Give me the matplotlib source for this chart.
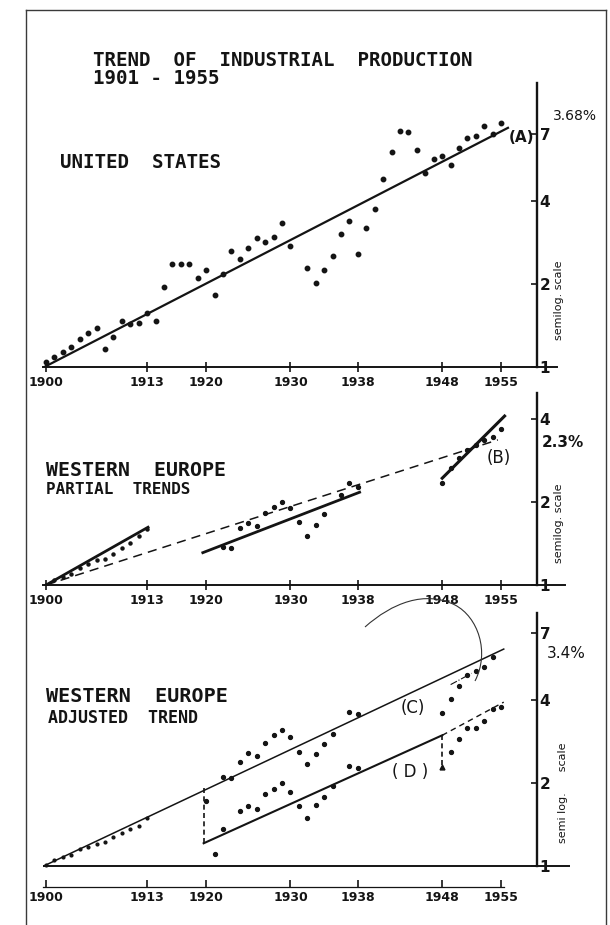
"""
Trend of industrial production 1901-1955: United States and Western Europe,
three stacked semilog panels in the style of an old typewritten figure.
"""

import matplotlib.pyplot as plt
from matplotlib.lines import Line2D
from matplotlib.path import Path
from matplotlib.patches import PathPatch
from matplotlib.ticker import NullLocator

# ---------------------------------------------------------------- data
tick_years = [1901, 1913, 1920, 1930, 1938, 1948, 1955]
tick_labels = ['1900', '1913', '1920', '1930', '1938', '1948', '1955']

# United States, index (1901 = 1)
us_years = list(range(1901, 1931)) + list(range(1932, 1956))
us_index = [1.04, 1.09, 1.13, 1.18, 1.26, 1.33, 1.39, 1.16, 1.28, 1.47,
            1.43, 1.44, 1.57, 1.47, 1.95, 2.36, 2.36, 2.36, 2.10, 2.25,
            1.82, 2.17, 2.64, 2.46, 2.70, 2.94, 2.84, 2.96, 3.33, 2.75,
            2.29, 2.02, 2.25, 2.53, 3.04, 3.38, 2.57, 3.19, 3.74, 4.81,
            6.02, 7.18, 7.12, 6.12, 5.05, 5.68, 5.82, 5.40, 6.23, 6.77,
            6.88, 7.48, 7.00, 7.67]
trend_a_years = [1900.8, 1955.8]
trend_a_vals = [1.0, 7.36]

# Western Europe, partial trends
we_pre_years = list(range(1901, 1914))
we_pre_index = [1.00, 1.04, 1.07, 1.10, 1.15, 1.19, 1.23, 1.24, 1.30, 1.36,
                1.42, 1.50, 1.60]
we_mid_years = [1922, 1923, 1924, 1925, 1926, 1927, 1928, 1929, 1930, 1931,
                1932, 1933, 1934, 1936, 1937, 1938]
we_mid_index = [1.37, 1.36, 1.61, 1.68, 1.64, 1.82, 1.92, 2.00, 1.90, 1.69,
                1.51, 1.65, 1.81, 2.12, 2.34, 2.27]
we_post_years = list(range(1948, 1956))
we_post_index = [2.34, 2.66, 2.89, 3.09, 3.22, 3.36, 3.45, 3.68]
seg1_years, seg1_vals = [1901, 1913.1], [1.0, 1.62]
seg2_years, seg2_vals = [1919.6, 1938.2], [1.31, 2.17]
seg3_years, seg3_vals = [1948.0, 1955.4], [2.44, 4.10]
overall_years, overall_vals = [1901, 1954.6], [1.0, 3.36]

# Western Europe, adjusted trend
adj_pre_years = list(range(1901, 1914))
adj_pre_index = [1.01, 1.05, 1.08, 1.10, 1.15, 1.17, 1.20, 1.22, 1.28, 1.32,
                 1.36, 1.40, 1.49]
adj_c_years = [1922, 1923, 1924, 1925, 1926, 1927, 1928, 1929, 1930, 1931,
               1932, 1933, 1934, 1935, 1937, 1938, 1948, 1949, 1950, 1951,
               1952, 1953, 1954]
adj_c_index = [2.10, 2.08, 2.38, 2.57, 2.51, 2.79, 2.98, 3.11, 2.94, 2.59,
               2.34, 2.55, 2.77, 3.01, 3.62, 3.56, 3.59, 4.03, 4.50, 4.93,
               5.10, 5.27, 5.73]
adj_d_years = [1920, 1921, 1922, 1924, 1925, 1926, 1927, 1928, 1929, 1930,
               1931, 1932, 1933, 1934, 1935, 1937, 1938, 1949, 1950, 1951,
               1952, 1953, 1954, 1955]
adj_d_index = [1.72, 1.105, 1.36, 1.58, 1.65, 1.61, 1.82, 1.90, 2.00, 1.86,
               1.65, 1.49, 1.66, 1.78, 1.95, 2.30, 2.27, 2.59, 2.89, 3.16,
               3.16, 3.36, 3.71, 3.77]
line_c_years, line_c_vals = [1900.7, 1955.3], [1.0, 6.12]
line_d_years, line_d_vals = [1919.7, 1948.0], [1.21, 2.98]
line_d_ext_years, line_d_ext_vals = [1948.0, 1955.3], [2.98, 3.93]
drop_1920_vals = [1.92, 1.21]
drop_1948_vals = [2.98, 2.29]
short_c_years, short_c_vals = [1949.0, 1951.5], [4.55, 5.00]

# ---------------------------------------------------------------- style
ink = '#141414'
mono = 'DejaVu Sans Mono'
W, H = 610, 925
XLIM = (1900.64, 1963.16)
AXIS_X = 1959.3

fig = plt.figure(figsize=(6.1, 9.25), dpi=100)


def px(x, y):
    return x / W, 1 - y / H


def make_panel(top, bottom, ylim, yticks, bottom_to, ticks_in=False):
    ax = fig.add_axes([43 / W, 1 - bottom / H, (570 - 43) / W, (bottom - top) / H])
    ax.set_yscale('log')
    ax.set_xlim(*XLIM)
    ax.set_ylim(*ylim)
    ax.patch.set_alpha(0)
    for s in ('top', 'left'):
        ax.spines[s].set_visible(False)
    ax.spines['right'].set_position(('data', AXIS_X))
    ax.spines['right'].set_bounds(1, ylim[1])
    ax.spines['right'].set_linewidth(1.7)
    ax.spines['right'].set_color(ink)
    ax.spines['bottom'].set_bounds(XLIM[0], bottom_to)
    ax.spines['bottom'].set_linewidth(1.4 if not ticks_in else 0.9)
    ax.spines['bottom'].set_color(ink)
    ax.yaxis.set_minor_locator(NullLocator())
    ax.set_yticks(yticks)
    ax.set_yticklabels([str(t) for t in yticks], fontweight='bold', fontsize=11,
                       color=ink)
    ax.yaxis.tick_right()
    ax.tick_params(axis='y', which='major', direction='in', length=4, width=1.2,
                   pad=1.5, colors=ink)
    ax.set_xticks(tick_years)
    ax.set_xticklabels(tick_labels, fontweight='bold', fontsize=9, color=ink)
    ax.tick_params(axis='x', direction='in' if ticks_in else 'inout',
                   length=5 if ticks_in else 7, width=1.2, pad=3, colors=ink)
    return ax


# ---------------------------------------------------------------- panel 1
ax1 = make_panel(83, 367, (1, 10.7), [1, 2, 4, 7], 1961.6)
ax1.plot(us_years, us_index, 'o', ms=3.2, color=ink, zorder=3)
ax1.plot(trend_a_years, trend_a_vals, '-', lw=1.6, color=ink)
ax1.text(1957.4, 6.8, '(A)', fontsize=11, fontweight='bold', ha='center',
         va='center', color=ink)
ax1.text(1963.8, 8.1, '3.68%', fontsize=10, ha='center', va='center', color=ink)
ax1.text(1961.9, 1.75, 'semilog. scale', rotation=90, fontsize=8, ha='center',
         va='center', color=ink)

# ---------------------------------------------------------------- panel 2
ax2 = make_panel(393, 585, (1, 4.97), [1, 2, 4], 1962.6)
ax2.plot(we_pre_years, we_pre_index, 'o', ms=2.2, color=ink, zorder=3)
ax2.plot(we_mid_years, we_mid_index, 'o', ms=2.8, color=ink, zorder=3)
ax2.plot(we_post_years, we_post_index, 'o', ms=2.8, color=ink, zorder=3)
ax2.plot(seg1_years, seg1_vals, '-', lw=2.0, color=ink)
ax2.plot(seg2_years, seg2_vals, '-', lw=2.0, color=ink)
ax2.plot(seg3_years, seg3_vals, '-', lw=2.2, color=ink)
ax2.plot(overall_years, overall_vals, '--', lw=1.1, color=ink, dashes=(6, 4))
ax2.text(1954.7, 2.89, '(B)', fontsize=12, ha='center', va='center', color=ink)
ax2.text(1962.3, 3.30, '2.3%', fontsize=11, fontweight='bold', ha='center',
         va='center', color=ink)
ax2.text(1961.8, 1.68, 'semilog. scale', rotation=90, fontsize=8, ha='center',
         va='center', color=ink)

# ---------------------------------------------------------------- panel 3
ax3 = make_panel(613, 887, (0.84, 8.27), [1, 2, 4, 7], 1955.3, ticks_in=True)
ax3.axhline(1, color=ink, lw=1.4)
ax3.plot(adj_pre_years, adj_pre_index, 'o', ms=2.0, color=ink, zorder=3)
ax3.plot(adj_c_years, adj_c_index, 'o', ms=2.8, color=ink, zorder=3)
ax3.plot(adj_d_years, adj_d_index, 'o', ms=2.8, color=ink, zorder=3)
ax3.plot(line_c_years, line_c_vals, '-', lw=1.1, color=ink)
ax3.plot(line_d_years, line_d_vals, '-', lw=1.5, color=ink)
ax3.plot(line_d_ext_years, line_d_ext_vals, '--', lw=1.0, color=ink,
         dashes=(4, 3))
ax3.plot([1919.7, 1919.7], drop_1920_vals, '--', lw=1.2, color=ink,
         dashes=(3, 2))
ax3.plot([1948.0, 1948.0], drop_1948_vals, '--', lw=1.2, color=ink,
         dashes=(3, 2))
ax3.plot([1948.0], [drop_1948_vals[1]], '^', ms=3.5, color=ink)
ax3.plot(short_c_years, short_c_vals, '-.', lw=0.8, color=ink)
ax3.text(1944.5, 3.74, '(C)', fontsize=12, ha='center', va='center', color=ink)
ax3.text(1944.2, 2.19, '( D )', fontsize=12, ha='center', va='center',
         color=ink)
ax3.text(1962.7, 5.92, '3.4%', fontsize=11, ha='center', va='center', color=ink)
ax3.text(1962.3, 1.84, 'semi log.      scale', rotation=90, fontsize=8,
         ha='center', va='center', color=ink)

# ---------------------------------------------------------------- titles
fig.text(*px(93, 60), 'TREND  OF  INDUSTRIAL  PRODUCTION', family=mono,
         fontsize=13.8, fontweight='bold', va='center', color=ink)
fig.text(*px(93, 78), '1901 - 1955', family=mono, fontsize=13.8,
         fontweight='bold', va='center', color=ink)
fig.text(*px(60, 162), 'UNITED  STATES', family=mono, fontsize=13.8,
         fontweight='bold', va='center', color=ink)
fig.text(*px(46, 471), 'WESTERN  EUROPE', family=mono, fontsize=14.3,
         fontweight='bold', va='center', color=ink)
fig.text(*px(46, 490), 'PARTIAL  TRENDS', family=mono, fontsize=11.5,
         fontweight='bold', va='center', color=ink)
fig.text(*px(46, 697), 'WESTERN  EUROPE', family=mono, fontsize=14.5,
         fontweight='bold', va='center', color=ink)
fig.text(*px(48, 718), 'ADJUSTED  TREND', family=mono, fontsize=12,
         fontweight='bold', va='center', color=ink)

# hand-drawn arc over the third panel
arc = Path([px(365, 627), px(392, 603), px(425, 590), px(455, 605),
            px(478, 617), px(490, 652), px(475, 681)],
           [Path.MOVETO, Path.CURVE4, Path.CURVE4, Path.CURVE4,
            Path.CURVE4, Path.CURVE4, Path.CURVE4])
fig.add_artist(PathPatch(arc, transform=fig.transFigure, fill=False,
                         lw=0.8, edgecolor='#333333'))

# page frame
for (x0, y0), (x1, y1) in [((26, 10), (26, 925)), ((26, 10), (606, 10)),
                           ((606, 10), (606, 925))]:
    fig.add_artist(Line2D([x0 / W, x1 / W], [1 - y0 / H, 1 - y1 / H],
                          transform=fig.transFigure, lw=1.0, color='#3a3a3a'))

fig.savefig('out.png', dpi=100)
